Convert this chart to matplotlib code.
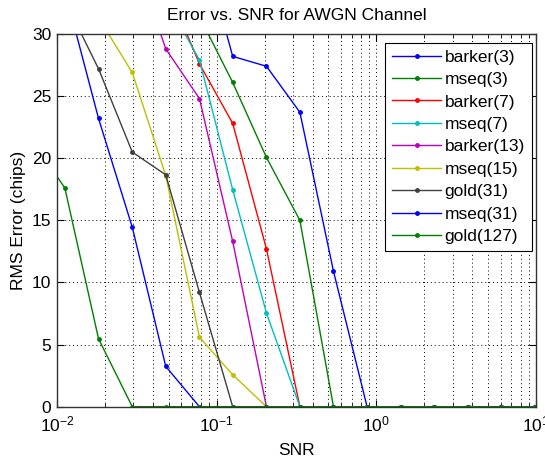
import numpy as np
import matplotlib
matplotlib.use("Agg")
import matplotlib.pyplot as plt
from matplotlib.ticker import LogLocator, NullFormatter

plt.rcParams['font.family'] = ['Liberation Sans', 'DejaVu Sans']
plt.rcParams['font.size'] = 12.5
plt.rcParams['mathtext.fontset'] = 'custom'
plt.rcParams['mathtext.rm'] = 'Liberation Sans'

nan = np.nan

# SNR sample points
snr = [0.0069, 0.0112, 0.0182, 0.0296, 0.048, 0.078, 0.126, 0.205,
       0.332, 0.539, 0.875, 1.42, 2.30, 3.74, 6.07, 9.86]

# RMS error (chips) per code, values above 30 are off the chart
barker3 = [nan, nan, nan, nan, nan, 38.0, 28.2, 27.4, 23.7, 10.9, 0, 0, 0, 0, 0, 0]
mseq3 = [nan, nan, nan, nan, nan, 31.4, 26.1, 20.06, 15.0, 0, 0, 0, 0, 0, 0, 0]
barker7 = [nan, nan, nan, nan, 34.0, 27.6, 22.8, 12.7, 0, 0, 0, 0, 0, 0, 0, 0]
mseq7 = [nan, nan, nan, nan, 32.8, 27.9, 17.46, 7.54, 0, 0, 0, 0, 0, 0, 0, 0]
barker13 = [nan, nan, nan, 36.7, 28.8, 24.8, 13.3, 0, 0, 0, 0, 0, 0, 0, 0, 0]
mseq15 = [nan, nan, 31.3, 26.9, 18.6, 5.6, 2.57, 0, 0, 0, 0, 0, 0, 0, 0, 0]
gold31 = [nan, 32.7, 27.2, 20.5, 18.66, 9.2, 0, 0, 0, 0, 0, 0, 0, 0, 0, 0]
mseq31 = [nan, 33.5, 23.2, 14.45, 3.24, 0, 0, 0, 0, 0, 0, 0, 0, 0, 0, 0]
gold127 = [21.6, 17.6, 5.47, 0, 0, 0, 0, 0, 0, 0, 0, 0, 0, 0, 0, 0]

labels = ['barker(3)', 'mseq(3)', 'barker(7)', 'mseq(7)', 'barker(13)',
          'mseq(15)', 'gold(31)', 'mseq(31)', 'gold(127)']
series = [barker3, mseq3, barker7, mseq7, barker13, mseq15, gold31, mseq31, gold127]
colors = ['#0000ff', '#008000', '#ff0000', '#00bfbf', '#bf00bf',
          '#bfbf00', '#404040', '#0000ff', '#008000']

fig = plt.figure(figsize=(5.45, 4.58), dpi=100)
ax = fig.add_axes([0.1046, 0.112, 0.8789, 0.8138])

for y, lab, c in zip(series, labels, colors):
    ax.plot(snr, np.array(y, dtype=float), '.-', color=c, lw=1.0, ms=5, label=lab)

ax.set_xscale('log')
ax.set_xlim(0.01, 10)
ax.set_ylim(0, 30)
ax.set_yticks([0, 5, 10, 15, 20, 25, 30])
ax.xaxis.set_minor_locator(LogLocator(base=10, subs=np.arange(2, 10)))
ax.xaxis.set_minor_formatter(NullFormatter())

ax.grid(True, which='major', axis='both', ls=(0, (1, 3)), color='k', lw=0.7)
ax.grid(True, which='minor', axis='x', ls=(0, (1, 3)), color='k', lw=0.7)

ax.tick_params(which='both', direction='in', top=True, right=True, labelsize=12.5)
ax.tick_params(which='major', length=5)
ax.tick_params(which='minor', length=3)
ax.tick_params(axis='x', which='major', pad=5.5)
ax.tick_params(axis='y', which='major', pad=4)
for s in ax.spines.values():
    s.set_color('#333333')
    s.set_linewidth(1.0)

ax.set_title('Error vs. SNR for AWGN Channel', fontsize=12.5, pad=10)
ax.set_xlabel('SNR', fontsize=12.5, labelpad=6)
ax.set_ylabel('RMS Error (chips)', fontsize=12.5, labelpad=4)

leg = ax.legend(loc='upper right', bbox_to_anchor=(0.991, 0.977), borderaxespad=0,
                fancybox=False, edgecolor='k', framealpha=1, handlelength=2.8,
                handletextpad=0.2, labelspacing=0.42, borderpad=0.4, fontsize=12.5)
leg.get_frame().set_linewidth(0.8)

fig.savefig('out.png', dpi=100)
